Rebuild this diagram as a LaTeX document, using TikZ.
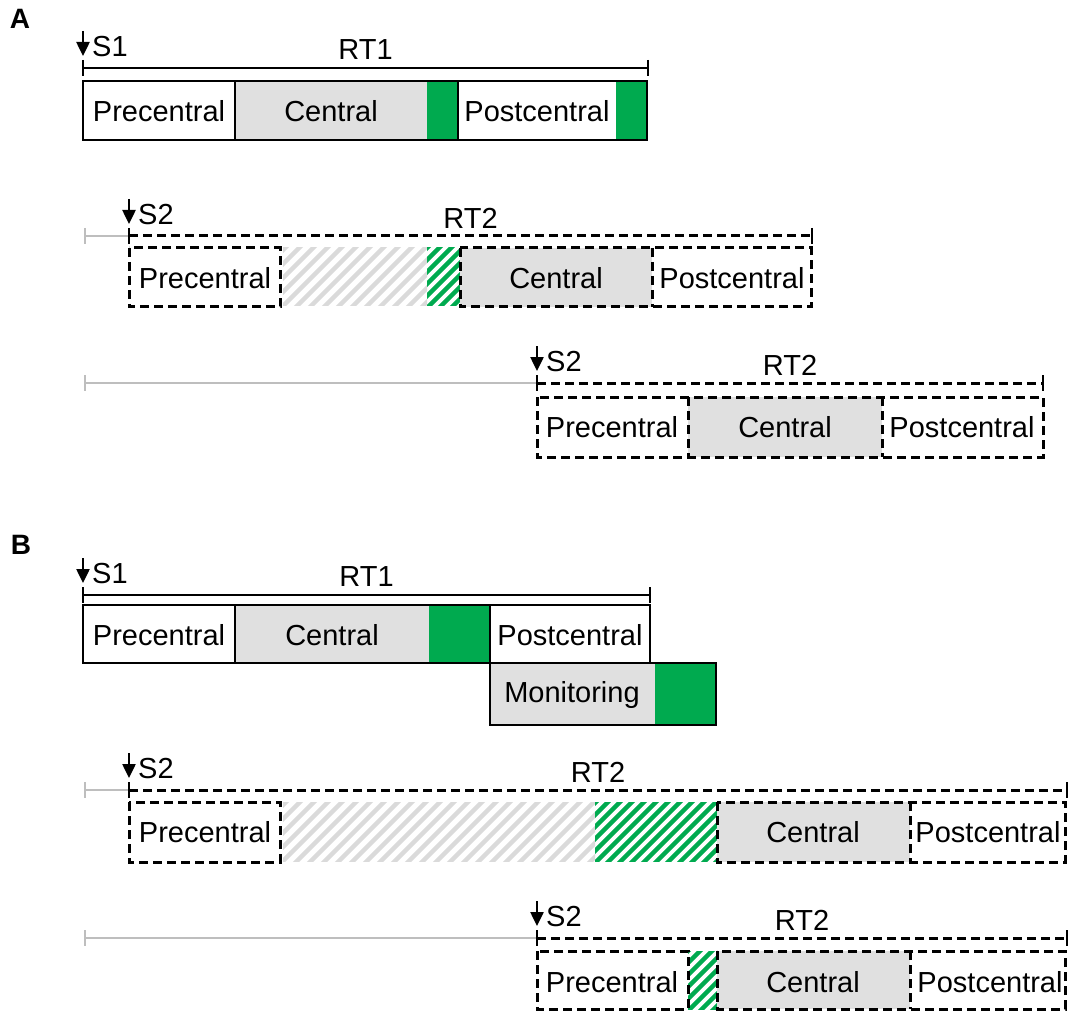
\documentclass[tikz,border=0pt]{standalone}
\usepackage{fontspec}
\setmainfont{Liberation Sans}
\usetikzlibrary{arrows.meta}
\definecolor{grn}{RGB}{0,170,79}
\definecolor{lgray}{RGB}{224,224,224}
\definecolor{hgray}{RGB}{218,218,218}
\definecolor{tgray}{RGB}{190,190,190}
\tikzset{
  lbl/.style={font=\fontsize{29}{34}\selectfont, inner sep=0pt},
  panel/.style={font=\fontsize{28}{34}\selectfont\bfseries, inner sep=0pt},
  solidbox/.style={draw=black, line width=2.5pt},
  dashbox/.style={draw=black, line width=3pt, dash pattern=on 9pt off 5pt},
  rtline/.style={line width=2.5pt},
  rtdash/.style={line width=3pt, dash pattern=on 9pt off 5pt},
  tickmark/.style={line width=2.5pt},
  greyline/.style={draw=tgray, line width=2.5pt},
  stim/.style={line width=2.5pt, -{Triangle[length=14pt,width=13pt]}},
}
\newcommand{\hatchfill}[6]{% x1,y1,x2,y2,color,period
  \begin{scope}
    \clip (#1,#2) rectangle (#3,#4);
    \foreach \i in {0,...,45} {\draw[#5, line width=4.5pt] ({#1-75+\i*#6},{#4+5}) -- ++(85,-85);}
  \end{scope}}
\newcommand{\stimulus}[4]{% name, x, liney, label
  \coordinate (#1top) at (#2,#3-37);
  \coordinate (#1tip) at (#2,#3-12);
  \draw[stim] (#1top) -- (#1tip);
  \node[lbl, anchor=west] (#1lab) at (#2+9,#3-21) {#4};}
\newcommand{\rttimeline}[6]{% name, style, x1, x2, y, label
  \coordinate (#1a) at (#3,#5);
  \coordinate (#1b) at (#4,#5);
  \draw[#2] (#1a) -- (#1b);
  \draw[tickmark] ([yshift=8pt]#1a) -- ([yshift=-8pt]#1a);
  \draw[tickmark] ([yshift=8pt]#1b) -- ([yshift=-8pt]#1b);
  \node[lbl] (#1lab) at ({(#3+#4)/2},#5-18) {#6};}
\newcommand{\leadline}[4]{% name, x1, x2, y
  \coordinate (#1a) at (#2,#4);
  \coordinate (#1b) at (#3,#4);
  \draw[greyline] (#1a) -- (#1b);
  \draw[greyline] ([yshift=8pt]#1a) -- ([yshift=-8pt]#1a);}
\newcommand{\divider}[3]{% x, y1, y2
  \draw[dashbox] (#1,#2) -- (#1,#3);}
\begin{document}
\begin{tikzpicture}[x=1pt,y=-1pt]
\useasboundingbox (0,0) rectangle (1069,1011);
% panel labels
\node[panel] (pA) at (20,19) {A};
\node[panel] (pB) at (21,545) {B};

% ===== A row 1 =====
\stimulus{sa1}{83}{68}{S1}
\rttimeline{rta1}{rtline}{83}{648}{68}{RT1}
\fill[lgray] (235,81) rectangle (427,140);
\fill[grn] (427,81) rectangle (458,140);
\fill[grn] (616,81) rectangle (647,140);
\draw[solidbox] (83,81) rectangle (235,140);
\draw[solidbox] (235,81) rectangle (458,140);
\draw[solidbox] (458,81) rectangle (647,140);
\node[lbl] (a1pre) at (159,111) {Precentral};
\node[lbl] (a1cen) at (331,111) {Central};
\node[lbl] (a1post) at (537,111) {Postcentral};

% ===== A row 2 =====
\leadline{la2}{85}{129}{236}
\rttimeline{rta2}{rtdash}{129}{812}{236}{RT2}
\stimulus{sa2}{129}{236}{S2}
\hatchfill{283}{248}{427}{306}{hgray}{14}
\hatchfill{427}{248}{460}{306}{grn}{12}
\fill[lgray] (460,248) rectangle (652,307);
\draw[dashbox] (129,248) rectangle (280,307);
\draw[dashbox] (460,248) rectangle (811,307);
\divider{652}{248}{307}
\node[lbl] (a2pre) at (205,278) {Precentral};
\node[lbl] (a2cen) at (556,278) {Central};
\node[lbl] (a2post) at (732,278) {Postcentral};

% ===== A row 3 =====
\leadline{la3}{85}{537}{383}
\rttimeline{rta3}{rtdash}{537}{1043}{383}{RT2}
\stimulus{sa3}{537}{383}{S2}
\fill[lgray] (688,397) rectangle (882,457);
\draw[dashbox] (537,397) rectangle (1043,457);
\divider{688}{397}{457}
\divider{882}{397}{457}
\node[lbl] (a3pre) at (612,427) {Precentral};
\node[lbl] (a3cen) at (785,427) {Central};
\node[lbl] (a3post) at (962,427) {Postcentral};

% ===== B row 1 =====
\stimulus{sb1}{83}{595}{S1}
\rttimeline{rtb1}{rtline}{83}{650}{595}{RT1}
\fill[lgray] (235,605) rectangle (429,663);
\fill[grn] (429,605) rectangle (490,663);
\draw[solidbox] (83,605) rectangle (235,663);
\draw[solidbox] (235,605) rectangle (490,663);
\draw[solidbox] (490,605) rectangle (650,663);
\fill[lgray] (490,663) rectangle (655,725);
\fill[grn] (655,663) rectangle (716,725);
\draw[solidbox] (490,663) rectangle (716,725);
\node[lbl] (b1pre) at (159,635) {Precentral};
\node[lbl] (b1cen) at (332,635) {Central};
\node[lbl] (b1post) at (570,635) {Postcentral};
\node[lbl] (b1mon) at (572,695) {Monitoring};

% ===== B row 2 =====
\leadline{lb2}{85}{129}{790}
\rttimeline{rtb2}{rtdash}{129}{1067}{790}{RT2}
\stimulus{sb2}{129}{790}{S2}
\hatchfill{283}{802}{595}{861}{hgray}{14}
\hatchfill{595}{802}{717}{861}{grn}{12}
\fill[lgray] (717,802) rectangle (910,862);
\draw[dashbox] (129,802) rectangle (280,862);
\draw[dashbox] (717,802) rectangle (1065,862);
\divider{910}{802}{862}
\node[lbl] (b2pre) at (205,832) {Precentral};
\node[lbl] (b2cen) at (813,832) {Central};
\node[lbl] (b2post) at (988,832) {Postcentral};

% ===== B row 3 =====
\leadline{lb3}{85}{537}{938}
\rttimeline{rtb3}{rtdash}{537}{1067}{938}{RT2}
\stimulus{sb3}{537}{938}{S2}
\hatchfill{688}{951}{717}{1009}{grn}{12}
\fill[lgray] (717,951) rectangle (910,1009);
\draw[dashbox] (537,951) rectangle (688,1009);
\draw[dashbox] (717,951) rectangle (1065,1009);
\divider{910}{951}{1009}
\node[lbl] (b3pre) at (612,982) {Precentral};
\node[lbl] (b3cen) at (813,982) {Central};
\node[lbl] (b3post) at (990,982) {Postcentral};
\end{tikzpicture}
\end{document}
